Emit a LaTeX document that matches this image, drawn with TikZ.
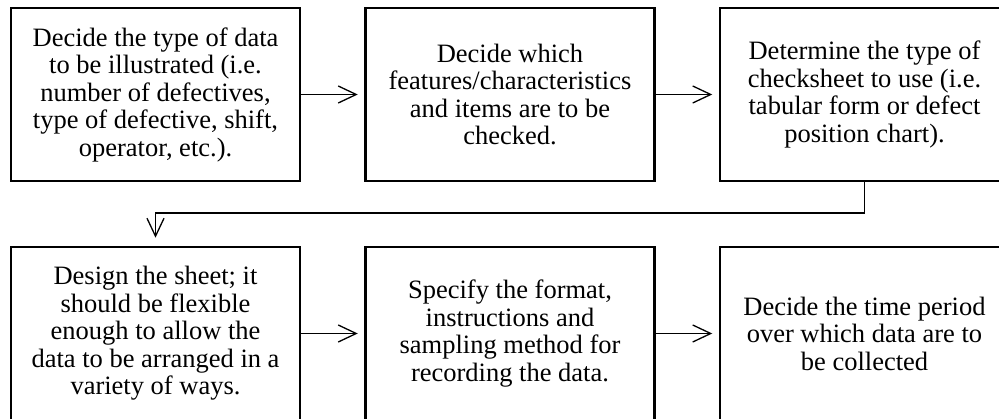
\documentclass[tikz,border=0pt]{standalone}
\usepackage{fontspec}
\setmainfont{Liberation Serif}
\usetikzlibrary{arrows.meta}

\tikzset{
  stepbox/.style={draw=black, line width=2.5pt, rectangle,
    minimum width=289pt, minimum height=173pt, inner sep=0pt,
    align=center, font=\fontsize{26.5pt}{27.5pt}\selectfont},
  flow/.style={draw=black, line width=1.3pt,
    -{Straight Barb[length=18pt,width=17pt,line width=1.3pt]}},
}

\begin{document}
\begin{tikzpicture}[x=1pt,y=-1pt]
  \path[use as bounding box, clip] (0,0) rectangle (999,419);

  % top row
  \node[stepbox] (b1) at (155.5,94.5) {Decide the type of data\\to be illustrated (i.e.\\number of defectives,\\type of defective, shift,\\operator, etc.).};
  \node[stepbox] (b2) at (510,94.5) {Decide which\\features/characteristics\\and items are to be\\checked.};
  \node[stepbox] (b3) at (864.5,94.5) {Determine the type of\\checksheet to use (i.e.\\tabular form or defect\\position chart).};

  % bottom row
  \node[stepbox] (b4) at (155.5,333.5) {Design the sheet; it\\should be flexible\\enough to allow the\\data to be arranged in a\\variety of ways.};
  \node[stepbox] (b5) at (510,333.5) {Specify the format,\\instructions and\\sampling method for\\recording the data.};
  \node[stepbox] (b6) at (864.5,333.5) {Decide the time period\\over which data are to\\be collected};

  % connectors
  \draw[flow, shorten >=6.5pt] (b1.east) -- (b2.west);
  \draw[flow, shorten >=6.5pt] (b2.east) -- (b3.west);
  \coordinate (turn) at (864.5,213);
  \draw[flow, shorten >=8pt] (b3.south) -- (turn) -| (b4.north);
  \draw[flow, shorten >=6.5pt] (b4.east) -- (b5.west);
  \draw[flow, shorten >=6.5pt] (b5.east) -- (b6.west);
\end{tikzpicture}
\end{document}
